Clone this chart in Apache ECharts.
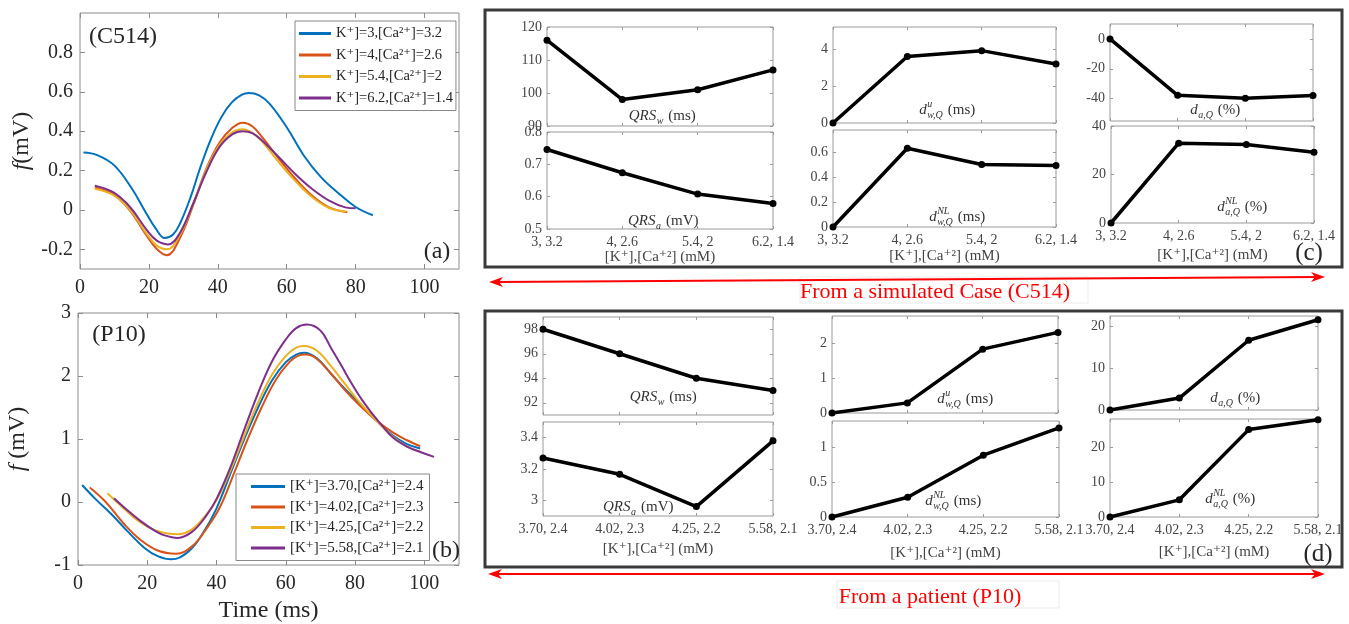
<!DOCTYPE html>
<html>
<head>
<meta charset="utf-8">
<script src="https://cdn.jsdelivr.net/npm/echarts@6/dist/echarts.min.js"></script>
<style>
html, body { margin: 0; padding: 0; background: #fff; }
#chart { width: 1349px; height: 624px; }
</style>
</head>
<body>
<div id="chart"></div>
<script>
// ---- data ----
const timeTicks = [0, 20, 40, 60, 80, 100]
const aTicks = [-0.2, 0, 0.2, 0.4, 0.6, 0.8]
const bTicks = [-1, 0, 1, 2, 3]

const namesA = ['K⁺]=3,[Ca²⁺]=3.2', 'K⁺]=4,[Ca²⁺]=2.6', 'K⁺]=5.4,[Ca²⁺]=2', 'K⁺]=6.2,[Ca²⁺]=1.4']
const namesB = ['[K⁺]=3.70,[Ca²⁺]=2.4', '[K⁺]=4.02,[Ca²⁺]=2.3', '[K⁺]=4.25,[Ca²⁺]=2.2', '[K⁺]=5.58,[Ca²⁺]=2.1']

// (a) C514, [time ms, mV]
const c514K3 = [[1, 0.291], [5, 0.278], [10, 0.225], [15, 0.11], [19, -0.01], [22, -0.095], [24.6, -0.143], [27, -0.125], [29, -0.07], [32, 0.06], [35, 0.22], [38, 0.36], [41, 0.47], [44, 0.545], [47, 0.585], [49, 0.594], [52, 0.582], [55, 0.54], [60, 0.42], [65, 0.275], [70, 0.165], [75, 0.085], [80, 0.015], [85, -0.027]]
const c514K4 = [[4.3, 0.114], [9.6, 0.08], [14.5, -0.003], [19.3, -0.13], [22.2, -0.197], [25.2, -0.23], [28.9, -0.146], [32.8, 0.022], [36.6, 0.207], [40.5, 0.342], [44.3, 0.418], [47.2, 0.443], [50, 0.425], [53, 0.367], [57.8, 0.258], [62.6, 0.157], [67.4, 0.072], [72.3, 0.013], [77.6, -0.012]]
const c514K54 = [[4.3, 0.108], [9.6, 0.076], [14.5, 0.0], [19.3, -0.12], [22.2, -0.18], [25.2, -0.2], [28.9, -0.13], [32.8, 0.03], [36.6, 0.2], [40.5, 0.33], [44.3, 0.395], [47.2, 0.41], [50, 0.392], [53, 0.345], [57.8, 0.24], [62.6, 0.145], [67.4, 0.065], [72.3, 0.01], [77.3, -0.008]]
const c514K62 = [[4.3, 0.123], [9.6, 0.09], [14.5, 0.015], [19.3, -0.1], [22.2, -0.155], [25.5, -0.175], [28.9, -0.12], [32.8, 0.03], [36.6, 0.19], [40.5, 0.32], [44.3, 0.385], [47.2, 0.4], [50, 0.39], [53, 0.35], [57.8, 0.266], [62.6, 0.18], [67.4, 0.106], [72.3, 0.047], [77, 0.013], [80, 0.008]]

// (b) P10
const p10K370 = [[1.2, 0.27], [5, 0.05], [9.6, -0.19], [14.4, -0.47], [19.2, -0.73], [23, -0.86], [26.9, -0.91], [32, -0.78], [36, -0.5], [40, -0.1], [44, 0.45], [48, 1.0], [52, 1.5], [56, 1.93], [60, 2.22], [63, 2.34], [65.3, 2.37], [69, 2.28], [73, 2.04], [77, 1.8], [81, 1.58], [86, 1.3], [91, 1.05], [95, 0.92], [98.8, 0.85]]
const p10K402 = [[3.4, 0.23], [8, 0.0], [13, -0.33], [18, -0.6], [23, -0.77], [28.3, -0.82], [33, -0.7], [37, -0.43], [41, -0.08], [45, 0.45], [49, 1.0], [53, 1.5], [57, 1.93], [61, 2.22], [63.5, 2.32], [65.8, 2.34], [69, 2.27], [73, 2.04], [77, 1.78], [81, 1.55], [86, 1.3], [91, 1.1], [95, 0.98], [98.8, 0.885]]
const p10K425 = [[8.5, 0.14], [12, -0.04], [16, -0.24], [20, -0.39], [24, -0.48], [28.8, -0.51], [33, -0.43], [37, -0.2], [40, 0.03], [44, 0.5], [48, 1.05], [52, 1.58], [56, 2.02], [60, 2.32], [63, 2.45], [65.3, 2.475], [69, 2.4], [73, 2.16], [77, 1.88], [81, 1.6], [86, 1.3], [91, 1.03], [95, 0.88], [98.9, 0.795]]
const p10K558 = [[10.4, 0.06], [14, -0.12], [18, -0.3], [22, -0.45], [25, -0.53], [28.8, -0.57], [33, -0.47], [37, -0.22], [40, 0.05], [44, 0.55], [48, 1.15], [52, 1.73], [56, 2.23], [60, 2.58], [63, 2.76], [66.1, 2.816], [70, 2.72], [73, 2.45], [76, 2.17], [79, 1.88], [82, 1.62], [85, 1.4], [88, 1.2], [91, 1.02], [95, 0.88], [99, 0.79], [102.8, 0.717]]

// (c) simulated case, (d) patient
const simCats = ['3, 3.2', '4, 2.6', '5.4, 2', '6.2, 1.4']
const patCats = ['3.70, 2.4', '4.02, 2.3', '4.25, 2.2', '5.58, 2.1']

const simQRSw = [116, 98, 101, 107]
const simQRSa = [0.746, 0.674, 0.608, 0.579]
const simDuwQ = [0, 3.6, 3.92, 3.2]
const simDnlwQ = [0, 0.633, 0.502, 0.494]
const simDaQ = [0, -37.8, -39.8, -37.9]
const simDnlaQ = [0, 32.9, 32.4, 29.2]

const patQRSw = [98, 96, 94, 93]
const patQRSa = [3.27, 3.166, 2.96, 3.38]
const patDuwQ = [0, 0.29, 1.83, 2.31]
const patDnlwQ = [0, 0.284, 0.889, 1.28]
const patDaQ = [0, 2.86, 16.7, 21.6]
const patDnlaQ = [0, 4.9, 24.97, 27.8]

// ---- layout / style ----
const SERIF = '"Liberation Serif", "DejaVu Serif", serif'
const colors = ['#0072BD', '#D95319', '#EDB120', '#7E2F8E']
const KCA = '[K⁺],[Ca⁺²] (mM)'

const grid = [], xAxis = [], yAxis = [], series = [], graphic = []

const mctx = document.createElement('canvas').getContext('2d')
const tw = (font, s) => { mctx.font = font; return s ? mctx.measureText(s).width : 0 }

function panel (box, xBase, yBase, xVals, yVals, st) {
  const gi = grid.length
  grid.push({ left: box[0], top: box[1], width: box[2], height: box[3], show: true, borderColor: st.border, borderWidth: 1, backgroundColor: 'rgba(0,0,0,0)' })
  const tick = vals => Object.assign({ show: true, inside: true, length: st.tickLen, lineStyle: { color: st.border, width: 1 } }, vals ? { customValues: vals } : { interval: 0 })
  const lbl = (vals, margin) => Object.assign({ show: true, fontFamily: SERIF, fontSize: st.fs, color: st.labelColor, margin }, vals ? { customValues: vals } : { interval: 0 })
  const common = { gridIndex: gi, axisLine: { show: false, onZero: false }, splitLine: { show: false } }
  const xi = xAxis.length
  xAxis.push(Object.assign({}, xBase, common, {
    position: 'bottom', axisTick: tick(xVals),
    axisLabel: st.xLabels ? lbl(xVals, st.xMargin) : { show: false },
    name: st.xName || '', nameLocation: 'middle', nameGap: st.xNameGap || 20,
    nameTextStyle: { fontFamily: SERIF, fontSize: st.xNameSize || 15, color: st.labelColor }
  }))
  xAxis.push(Object.assign({}, xBase, common, { position: 'top', axisTick: tick(xVals), axisLabel: { show: false } }))
  const yi = yAxis.length
  yAxis.push(Object.assign({}, yBase, common, {
    position: 'left', axisTick: tick(yVals), axisLabel: lbl(yVals, st.yMargin),
    name: st.yName || '', nameLocation: 'middle', nameRotate: 90, nameGap: st.yNameGap || 40,
    nameTextStyle: { fontFamily: SERIF, fontSize: 24, color: '#262626', rich: { i: { fontFamily: SERIF, fontSize: 24, fontStyle: 'italic', color: '#262626' } } }
  }))
  yAxis.push(Object.assign({}, yBase, common, { position: 'right', axisTick: tick(yVals), axisLabel: { show: false } }))
  return { xi, yi }
}

function txt (x, y, s, font, fill, align) {
  return { type: 'text', x, y, silent: true, style: { text: s, font, fill: fill || '#262626', align: align || 'center', verticalAlign: 'middle' } }
}

// d^{sup}_{sub} (unit) style labels
function mathLabel (cx, cy, base, sup, sub, unit) {
  const fb = 'italic 15px ' + SERIF, fsc = 'italic 10px ' + SERIF, fu = '15px ' + SERIF
  const wb = tw(fb, base), ws = Math.max(tw(fsc, sup), tw(fsc, sub)), wu = tw(fu, unit)
  const gap = 5
  let x = cx - (wb + ws + gap + wu) / 2
  graphic.push(txt(x, cy, base, fb, '#333', 'left'))
  x += wb + 0.5
  if (sup) graphic.push(txt(x, cy - 6, sup, fsc, '#333', 'left'))
  if (sub) graphic.push(txt(x, cy + 5, sub, fsc, '#333', 'left'))
  graphic.push(txt(x + ws + gap, cy, unit, fu, '#333', 'left'))
}

// ---- left panels ----
const bigStyle = { border: '#8c8c8c', tickLen: 5, fs: 20, labelColor: '#262626', xLabels: true, xMargin: 9, yMargin: 7, yNameGap: 46 }
const pa = panel([80, 13, 379, 256], { type: 'value', min: 0, max: 110 }, { type: 'value', min: -0.3, max: 1.0 }, timeTicks, aTicks,
  Object.assign({}, bigStyle, { yName: '{i|f}(mV)' }))
const pb = panel([78, 313, 381, 254], { type: 'value', min: 0, max: 110 }, { type: 'value', min: -1, max: 3 }, timeTicks, bTicks,
  Object.assign({}, bigStyle, { yName: '{i|f} (mV)', yNameGap: 48, xName: 'Time (ms)', xNameGap: 34, xNameSize: 24 }))

const curvesA = [c514K3, c514K4, c514K54, c514K62]
const curvesB = [p10K370, p10K402, p10K425, p10K558]
curvesA.forEach((d, i) => series.push({
  type: 'line', name: namesA[i], xAxisIndex: pa.xi, yAxisIndex: pa.yi, data: d, smooth: 0.4,
  symbol: 'none', showSymbol: false, lineStyle: { color: colors[i], width: 2 }, itemStyle: { color: colors[i] }
}))
curvesB.forEach((d, i) => series.push({
  type: 'line', name: namesB[i], xAxisIndex: pb.xi, yAxisIndex: pb.yi, data: d, smooth: 0.4,
  symbol: 'none', showSymbol: false, lineStyle: { color: colors[i], width: 2 }, itemStyle: { color: colors[i] }
}))

// ---- small panels ----
const smallStyle = { border: '#9a9a9a', tickLen: 3, fs: 14, labelColor: '#444', xMargin: 6, yMargin: 5 }
const smallPanels = [
  { box: [547, 27, 226, 99], cats: simCats, vals: simQRSw, min: 90, max: 120, ticks: [90, 100, 110, 120], lab: [662, 116, 'QRS', '', 'w', '(ms)'] },
  { box: [547, 132, 226, 97], cats: simCats, vals: simQRSa, min: 0.5, max: 0.8, ticks: [0.5, 0.6, 0.7, 0.8], lab: [663, 221, 'QRS', '', 'a', '(mV)'], gap: 21 },
  { box: [833, 27, 223, 96], cats: simCats, vals: simDuwQ, min: 0, max: 5.2, ticks: [0, 2, 4], lab: [947, 110, 'd', 'u', 'w,Q', '(ms)'] },
  { box: [833, 130, 223, 97], cats: simCats, vals: simDnlwQ, min: 0, max: 0.78, ticks: [0, 0.2, 0.4, 0.6], lab: [957, 217, 'd', 'NL', 'w,Q', '(ms)'], gap: 22 },
  { box: [1110, 24, 203, 97], cats: simCats, vals: simDaQ, min: -55, max: 10, ticks: [-40, -20, 0], lab: [1215, 110, 'd', '', 'a,Q', '(%)'] },
  { box: [1111, 126, 203, 97], cats: simCats, vals: simDnlaQ, min: 0, max: 40, ticks: [0, 20, 40], lab: [1242, 207, 'd', 'NL', 'a,Q', '(%)'], gap: 25 },
  { box: [543, 317, 230, 98], cats: patCats, vals: patQRSw, min: 91, max: 99, ticks: [92, 94, 96, 98], lab: [663, 397, 'QRS', '', 'w', '(ms)'] },
  { box: [543, 422, 230, 94], cats: patCats, vals: patQRSa, min: 2.9, max: 3.5, ticks: [3, 3.2, 3.4], lab: [638, 507, 'QRS', '', 'a', '(mV)'], gap: 26 },
  { box: [832, 316, 226, 97], cats: patCats, vals: patDuwQ, min: 0, max: 2.78, ticks: [0, 1, 2], lab: [965, 399, 'd', 'u', 'w,Q', '(ms)'] },
  { box: [832, 421, 227, 96], cats: patCats, vals: patDnlwQ, min: 0, max: 1.38, ticks: [0, 0.5, 1], lab: [953, 501, 'd', 'NL', 'w,Q', '(ms)'], gap: 29 },
  { box: [1110, 316, 208, 94], cats: patCats, vals: patDaQ, min: 0, max: 22.5, ticks: [0, 10, 20], lab: [1235, 398, 'd', '', 'a,Q', '(%)'] },
  { box: [1110, 419, 208, 98], cats: patCats, vals: patDnlaQ, min: 0, max: 28, ticks: [0, 10, 20], lab: [1230, 499, 'd', 'NL', 'a,Q', '(%)'], gap: 28 }
]
smallPanels.forEach(p => {
  const withX = p.gap !== undefined
  const ax = panel(p.box, { type: 'category', data: p.cats, boundaryGap: false }, { type: 'value', min: p.min, max: p.max }, null, p.ticks,
    Object.assign({}, smallStyle, { xLabels: withX, xName: withX ? KCA : '', xNameGap: p.gap }))
  series.push({
    type: 'line', xAxisIndex: ax.xi, yAxisIndex: ax.yi, data: p.vals, clip: false,
    symbol: 'circle', symbolSize: 7, lineStyle: { color: '#000', width: 3.5 }, itemStyle: { color: '#000' }
  })
  mathLabel(...p.lab)
})

// ---- frames, arrows, annotations ----
graphic.push(
  { type: 'rect', silent: true, shape: { x: 485, y: 10, width: 857, height: 257 }, style: { fill: 'none', stroke: '#3a3a3a', lineWidth: 3 } },
  { type: 'rect', silent: true, shape: { x: 485, y: 311, width: 857, height: 256 }, style: { fill: 'none', stroke: '#3a3a3a', lineWidth: 3 } },
  { type: 'rect', silent: true, shape: { x: 800, y: 277, width: 288, height: 26 }, style: { fill: 'none', stroke: '#ececec', lineWidth: 1 } },
  { type: 'rect', silent: true, shape: { x: 837, y: 581, width: 222, height: 27 }, style: { fill: 'none', stroke: '#ececec', lineWidth: 1 } }
)
function arrow (x1, y1, x2, y2) {
  graphic.push({ type: 'line', silent: true, shape: { x1: x1 + 6, y1, x2: x2 - 6, y2 }, style: { stroke: '#ff0000', lineWidth: 2 } })
  graphic.push({ type: 'polygon', silent: true, shape: { points: [[x1, y1], [x1 + 14, y1 - 5], [x1 + 10, y1], [x1 + 14, y1 + 5]] }, style: { fill: '#ff0000' } })
  graphic.push({ type: 'polygon', silent: true, shape: { points: [[x2, y2], [x2 - 14, y2 - 5], [x2 - 10, y2], [x2 - 14, y2 + 5]] }, style: { fill: '#ff0000' } })
}
arrow(489, 282, 1325, 277)
arrow(488, 574, 1325, 574)
graphic.push(
  txt(935, 292, 'From a simulated Case (C514)', '22px ' + SERIF, '#ff0000'),
  txt(930, 597, 'From a patient (P10)', '22px ' + SERIF, '#ff0000'),
  txt(123, 37, '(C514)', '24px ' + SERIF),
  txt(437, 252, '(a)', '24px ' + SERIF),
  txt(119, 335, '(P10)', '24px ' + SERIF),
  txt(446, 551, '(b)', '24px ' + SERIF),
  txt(1309, 253, '(c)', '25px ' + SERIF),
  txt(1318, 554, '(d)', '25px ' + SERIF)
)

const legendBase = {
  orient: 'vertical', icon: 'rect', itemHeight: 3, backgroundColor: '#fff', borderColor: '#888', borderWidth: 1,
  selectedMode: false, textStyle: { fontFamily: SERIF, fontSize: 15, color: '#262626' }
}

const chart = echarts.init(document.getElementById('chart'), null, { renderer: 'canvas' })
chart.setOption({
  animation: false,
  backgroundColor: '#fff',
  grid, xAxis, yAxis, series, graphic,
  legend: [
    Object.assign({}, legendBase, { data: namesA, left: 295, top: 21, itemWidth: 32, itemGap: 6.5, padding: [5, 3, 5, 4], textStyle: Object.assign({}, legendBase.textStyle, { fontSize: 14.5 }) }),
    Object.assign({}, legendBase, { data: namesB, left: 236, top: 474, itemWidth: 34, itemGap: 5.5, padding: [5, 6, 5, 15] })
  ]
})
window.addEventListener('resize', () => chart.resize())
</script>
</body>
</html>
